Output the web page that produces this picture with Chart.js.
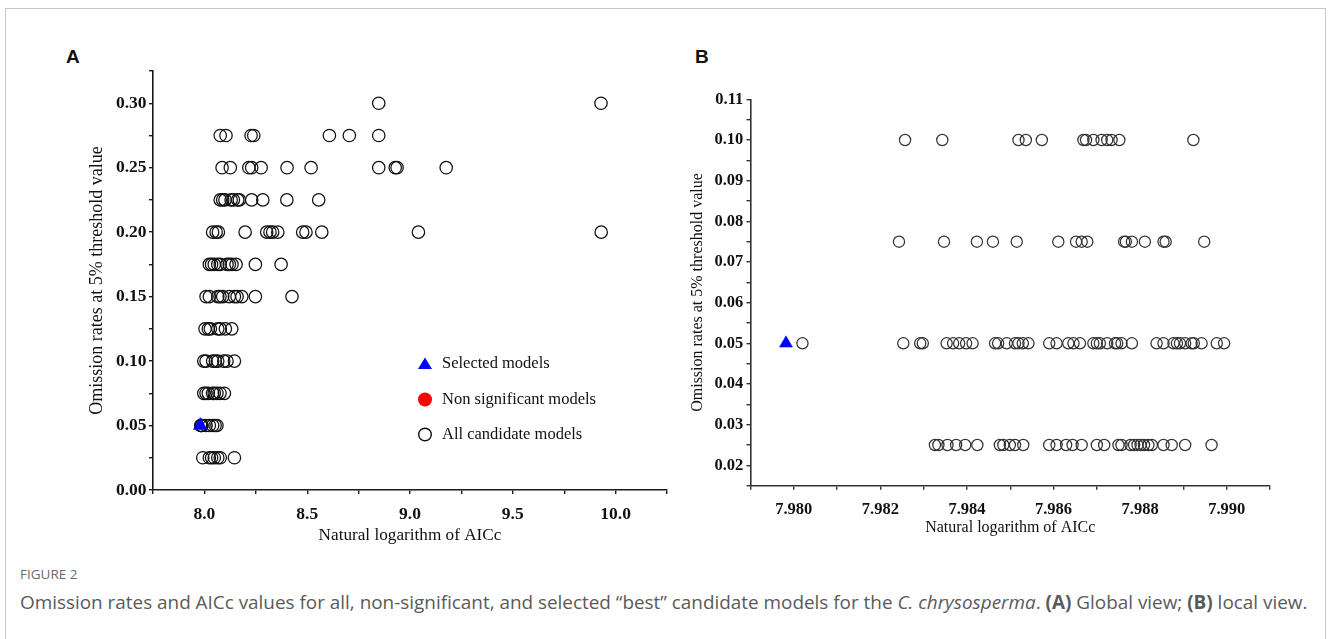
<!DOCTYPE html>
<html><head><meta charset="utf-8">
<script src="https://cdn.jsdelivr.net/npm/chart.js@4.4.1/dist/chart.umd.min.js"></script>
<style>
html,body{margin:0;padding:0;background:#fff;width:1330px;height:639px;overflow:hidden;}
#frame{position:absolute;left:5px;top:8px;width:1319px;height:700px;border:1px solid #c8c8c8;}
canvas{position:absolute;}
#cA{left:0;top:0}
#cB{left:660px;top:0}
.plab{position:absolute;font-family:"Liberation Sans",Arial,sans-serif;font-weight:bold;font-size:19px;line-height:19px;color:#111;}
#fig{position:absolute;left:20px;top:565px;font-family:"Open Sans",sans-serif;font-size:13.5px;line-height:18px;color:#6a6a6a;}
#cap{position:absolute;left:20px;top:590px;font-family:"Open Sans",sans-serif;font-size:18.9px;line-height:24px;color:#5a5a5a;white-space:nowrap;}
</style></head><body>
<div id="frame"></div>
<div class="plab" style="left:66px;top:47px">A</div>
<div class="plab" style="left:695px;top:47px">B</div>
<canvas id="cA" width="700" height="560"></canvas>
<canvas id="cB" width="660" height="560"></canvas>
<div id="fig">FIGURE 2</div>
<div id="cap">Omission rates and AICc values for all, non-significant, and selected “best” candidate models for the <i>C. chrysosperma</i>. <b>(A)</b> Global view; <b>(B)</b> local view.</div>
<script>
// ---------- DATA ----------
const seriesNames = ['Selected models', 'Non significant models', 'All candidate models'];

// Panel A (global view): ln(AICc) values of candidate models at each omission rate
const A_0300 = [8.848, 9.929];
const A_0275 = [8.077, 8.105, 8.227, 8.240, 8.608, 8.705, 8.848];
const A_0250 = [8.086, 8.126, 8.216, 8.230, 8.276, 8.402, 8.519, 8.848, 8.928, 8.937, 9.176];
const A_0225 = [8.077, 8.089, 8.100, 8.130, 8.141, 8.162, 8.170, 8.230, 8.284, 8.401, 8.556];
const A_0200 = [8.040, 8.057, 8.068, 8.198, 8.303, 8.319, 8.332, 8.357, 8.478, 8.494, 8.571, 9.041, 9.930];
const A_0175 = [8.024, 8.035, 8.048, 8.065, 8.077, 8.110, 8.121, 8.134, 8.154, 8.248, 8.373];
const A_0150 = [8.008, 8.024, 8.065, 8.076, 8.089, 8.121, 8.146, 8.159, 8.182, 8.248, 8.426];
const A_0125 = [8.003, 8.019, 8.029, 8.065, 8.077, 8.102, 8.133];
const A_0100 = [7.997, 8.008, 8.040, 8.053, 8.065, 8.094, 8.110, 8.146];
const A_0075 = [7.997, 8.008, 8.019, 8.040, 8.048, 8.061, 8.076, 8.097];
const A_0050 = [7.982, 7.985, 7.988, 8.008, 8.024, 8.040, 8.052, 8.061];
const A_0025 = [7.992, 8.024, 8.035, 8.048, 8.065, 8.077, 8.146];
const ratesA = [0.300, 0.275, 0.250, 0.225, 0.200, 0.175, 0.150, 0.125, 0.100, 0.075, 0.050, 0.025];
const aicA = [A_0300, A_0275, A_0250, A_0225, A_0200, A_0175, A_0150, A_0125, A_0100, A_0075, A_0050, A_0025];

// Panel B (local view)
const B_0100 = [7.98257, 7.98343, 7.98519, 7.98536, 7.98573, 7.98669, 7.98675, 7.98692, 7.98711, 7.98724, 7.98734, 7.98752, 7.98923];
const B_0075 = [7.98243, 7.98347, 7.98423, 7.98460, 7.98515, 7.98611, 7.98652, 7.98665, 7.98678, 7.98763, 7.98767, 7.98781, 7.98811, 7.98854, 7.98859, 7.98948];
const B_0050 = [7.98020, 7.98253, 7.98292, 7.98298, 7.98353, 7.98368, 7.98382, 7.98398, 7.98413, 7.98465, 7.98472, 7.98492, 7.98511, 7.98519, 7.98529, 7.98542, 7.98590, 7.98607, 7.98634, 7.98646, 7.98661, 7.98692, 7.98700, 7.98707, 7.98724, 7.98742, 7.98747, 7.98757, 7.98781, 7.98838, 7.98854, 7.98877, 7.98885, 7.98892, 7.98904, 7.98919, 7.98924, 7.98942, 7.98977, 7.98994];
const B_0025 = [7.98326, 7.98334, 7.98355, 7.98375, 7.98396, 7.98424, 7.98476, 7.98484, 7.98499, 7.98511, 7.98530, 7.98590, 7.98607, 7.98629, 7.98644, 7.98665, 7.98700, 7.98717, 7.98750, 7.98757, 7.98778, 7.98786, 7.98794, 7.98801, 7.98809, 7.98819, 7.98827, 7.98854, 7.98873, 7.98904, 7.98965];
const ratesB = [0.100, 0.075, 0.050, 0.025];
const aicB = [B_0100, B_0075, B_0050, B_0025];

// Selected ("best") model
const selectedAic = [7.97982];
const selectedRate = [0.050];
// Non significant models (none)
const nonSigAic = [];
const nonSigRate = [];

// Tick labels
const xTicksA = ['8.0', '8.5', '9.0', '9.5', '10.0'];
const yTicksA = ['0.00', '0.05', '0.10', '0.15', '0.20', '0.25', '0.30'];
const xTicksB = ['7.980', '7.982', '7.984', '7.986', '7.988', '7.990'];
const yTicksB = ['0.02', '0.03', '0.04', '0.05', '0.06', '0.07', '0.08', '0.09', '0.10', '0.11'];

// ---------- BUILD ----------
function pts(xs, ys) { return xs.map((x, i) => ({x: x, y: ys[i]})); }
function levelPts(rates, groups) {
  const out = [];
  groups.forEach((g, i) => g.forEach(x => out.push({x: x, y: rates[i]})));
  return out;
}
function tickCb(list) {
  return function (v) {
    for (const s of list) { if (Math.abs(parseFloat(s) - v) < 1e-7) return s; }
    return '';
  };
}

function datasets(allPts, circR, circColor, triR) {
  return [
    {label: seriesNames[0], data: pts(selectedAic, selectedRate), pointStyle: 'triangle', pointRadius: triR,
     pointBackgroundColor: '#0000ff', pointBorderColor: '#0000ff', pointBorderWidth: 0.5, showLine: false},
    {label: seriesNames[1], data: pts(nonSigAic, nonSigRate), pointStyle: 'circle', pointRadius: 7,
     pointBackgroundColor: '#ff0000', pointBorderColor: '#ff0000', showLine: false},
    {label: seriesNames[2], data: allPts, pointStyle: 'circle', pointRadius: circR,
     pointBackgroundColor: 'rgba(0,0,0,0)', pointBorderColor: circColor, pointBorderWidth: 1.25, showLine: false}
  ];
}

function opts(c) {
  const tickFont = {family: 'Liberation Serif', weight: 'bold', size: c.tickSize};
  const titleFont = {family: 'Liberation Serif', size: c.titleSize};
  return {
    responsive: false, animation: false, devicePixelRatio: 1, events: [],
    layout: {padding: {left: 0, top: c.top, right: c.right, bottom: 0}},
    plugins: {legend: {display: false}, tooltip: {enabled: false}},
    scales: {
      x: {
        type: 'linear', min: c.xmin, max: c.xmax,
        afterFit: s => { s.height = c.xh; },
        border: {display: true, color: c.axis, width: 1.6},
        grid: {display: true, drawOnChartArea: false, drawTicks: true, tickLength: 4, color: c.axis, lineWidth: 1.4},
        ticks: {stepSize: c.xstep, maxTicksLimit: 1000, autoSkip: false, maxRotation: 0, minRotation: 0,
                padding: c.xtp, color: '#111', font: tickFont, callback: tickCb(c.xlabels)},
        title: {display: true, text: 'Natural logarithm of AICc', color: '#111', font: {family: 'Liberation Serif', size: c.xTitleSize},
                padding: {top: 0, bottom: c.xtitle}}
      },
      y: {
        type: 'linear', min: c.ymin, max: c.ymax,
        afterFit: s => { s.width = c.yw; },
        border: {display: true, color: c.axis, width: 1.6},
        grid: {display: true, drawOnChartArea: false, drawTicks: true, tickLength: 4, color: c.axis, lineWidth: 1.4},
        ticks: {stepSize: c.ystep, maxTicksLimit: 1000, autoSkip: false, padding: c.ytp, color: '#111',
                font: tickFont, callback: tickCb(c.ylabels)},
        title: {display: true, text: 'Omission rates at 5% threshold value', color: '#111', font: titleFont,
                padding: {top: c.ytitle, bottom: 0}}
      }
    }
  };
}

const legendA = {
  id: 'legendA',
  afterDraw(chart) {
    const ctx = chart.ctx;
    const mx = 425, tx = 442, ys = [364, 399.5, 434.5];
    ctx.save();
    ctx.fillStyle = '#0000ff';
    ctx.beginPath();
    ctx.moveTo(mx, ys[0] - 6.5); ctx.lineTo(mx + 7, ys[0] + 5); ctx.lineTo(mx - 7, ys[0] + 5); ctx.closePath(); ctx.fill();
    ctx.fillStyle = '#ff0000';
    ctx.beginPath(); ctx.arc(mx, ys[1], 7, 0, Math.PI * 2); ctx.fill();
    ctx.strokeStyle = '#111'; ctx.lineWidth = 1.4;
    ctx.beginPath(); ctx.arc(mx, ys[2], 6.3, 0, Math.PI * 2); ctx.stroke();
    ctx.fillStyle = '#111';
    ctx.font = '16.5px "Liberation Serif"';
    ctx.textBaseline = 'middle'; ctx.textAlign = 'left';
    chart.data.datasets.forEach((d, i) => ctx.fillText(d.label, tx, ys[i]));
    ctx.restore();
  }
};

new Chart(document.getElementById('cA'), {
  type: 'scatter',
  data: {datasets: datasets(levelPts(ratesA, aicA), 6.2, '#111', 8)},
  options: opts({top: 71, right: 33, yw: 153, xh: 70, xmin: 7.75, xmax: 10.25, xstep: 0.25, ymin: 0, ymax: 0.325, ystep: 0.025,
                 xlabels: xTicksA, ylabels: yTicksA, axis: '#1a1a1a', tickSize: 17.5, titleSize: 18, xTitleSize: 17.2,
                 xtp: 9.5, ytp: 2.5, xtitle: 14.6, ytitle: 86.2}),
  plugins: [legendA]
});

new Chart(document.getElementById('cB'), {
  type: 'scatter',
  data: {datasets: datasets(levelPts(ratesB, aicB), 5.6, '#333', 7.5)},
  options: opts({top: 99.3, right: 50, yw: 90.5, xh: 74.3, xmin: 7.979, xmax: 7.991, xstep: 0.001, ymin: 0.015, ymax: 0.11, ystep: 0.005,
                 xlabels: xTicksB, ylabels: yTicksB, axis: '#333', tickSize: 16.5, titleSize: 16, xTitleSize: 16,
                 xtp: 10.4, ytp: 3.2, xtitle: 22.4, ytitle: 27.7})
});
</script>
</body></html>
